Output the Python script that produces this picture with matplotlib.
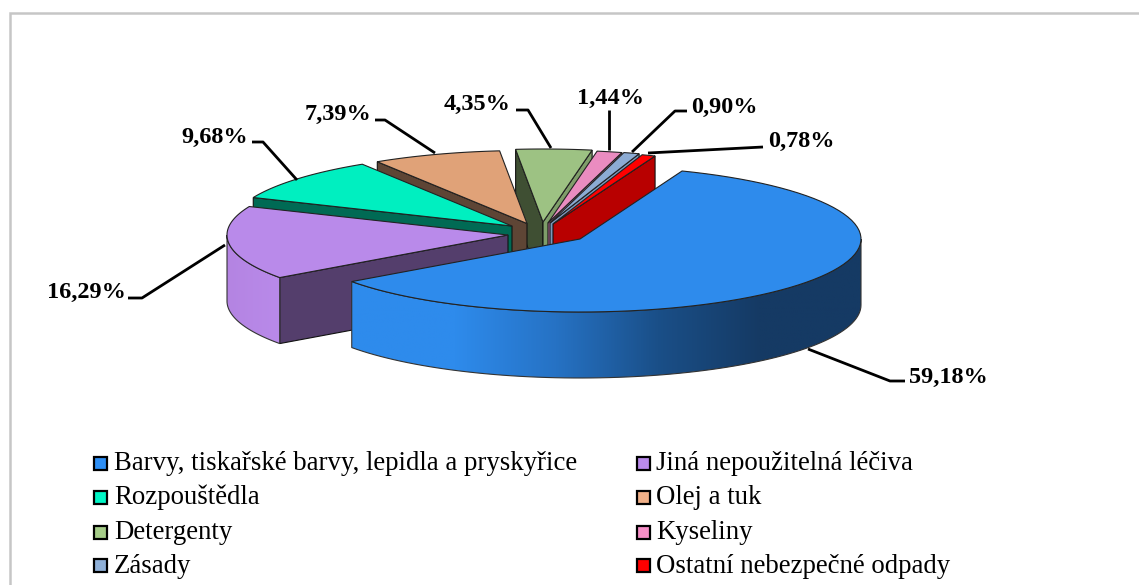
import numpy as np
import matplotlib
matplotlib.use('Agg')
import matplotlib.pyplot as plt
from matplotlib.colors import LinearSegmentedColormap
from matplotlib.patches import Polygon, Rectangle

plt.rcParams['font.family'] = ['Liberation Serif', 'DejaVu Serif']

# data
categories = ['Barvy, tiskařské barvy, lepidla a pryskyřice', 'Jiná nepoužitelná léčiva',
              'Rozpouštědla', 'Olej a tuk', 'Detergenty', 'Kyseliny', 'Zásady',
              'Ostatní nebezpečné odpady']
values = [59.18, 16.29, 9.68, 7.39, 4.35, 1.44, 0.90, 0.78]

# colours: top, radial face, outer wall
top_colors = ['#2e8bec', '#b98aea', '#00efc0', '#e0a278', '#9dc283', '#ea8cc0', '#8cabd3', '#ff0000']
face_colors = ['#1b4f88', '#543e6c', '#006a54', '#5e4535', '#3f4f33', '#b56f96', '#6d86a8', '#b80000']
right_face_colors = ['#1b4f88', '#543e6c', '#006a54', '#5e4535', '#7f9e6a', '#d07fad', '#7b97bb', '#b80000']
legend_colors = ['#2e8ff5', '#b98aea', '#00f5c5', '#f0b088', '#a5cc88', '#f78fc8', '#8fb0d8', '#ff0000']

# layout, in pixels of the 1139x585 picture
START = 21.3
RX, RY, DEPTH = 281, 73, 66
apex = [(580, 239), (508, 235), (512, 226), (527, 223.5), (543, 222), (548, 223), (550, 223), (553, 224)]
draw_order = [4, 5, 6, 7, 3, 2, 1, 0]
leader_elbow = [[(890, 381), (905, 381)], [(142, 298), (128, 298)], [(263, 142), (252, 142)],
                [(385, 120), (375, 120)], [(528, 110), (516, 110)], [(609, 110)],
                [(675, 111), (687, 111)], [(763, 147)]]
leader_start = [(808, 349), (225, 245), (297, 180), (435, 153), (551, 148), (609, 150), (632, 152), (648, 153)]
label_pos = [(909, 377), (47, 292), (181, 137), (305, 114), (444, 104), (577, 98), (691, 107), (768, 141)]
legend_rows = [463, 497, 532, 565]
legend_base = [470, 504, 539, 573]
legend_cols = [(94, 114), (637, 656)]

fig = plt.figure(figsize=(11.39, 5.85), dpi=100)
ax = fig.add_axes([0, 0, 1, 1])
ax.set_xlim(0, 1139)
ax.set_ylim(585, 0)
ax.axis('off')

# chart frame, the right side is cut off in the picture
ax.plot([10, 10, 1139], [590, 13, 13], color='#c6c6c6', lw=1.8, zorder=0, solid_joinstyle='miter')


def arc(c, a0, a1, n=80):
    t = np.radians(np.linspace(a0, a1, n))
    return c[0] + RX * np.sin(t), c[1] - RY * np.cos(t)


def radial_face(c, a, color, z):
    x, y = arc(c, a, a, 1)
    pts = [c, (x[0], y[0]), (x[0], y[0] + DEPTH), (c[0], c[1] + DEPTH)]
    ax.add_patch(Polygon(pts, closed=True, fc=color, ec='#111111', lw=0.8, zorder=z))


share = np.array(values) / sum(values) * 360
a_start = START + np.concatenate([[0], np.cumsum(share)[:-1]])
a_end = a_start + share

wall_blue = LinearSegmentedColormap.from_list('wall_blue', ['#2e8bec', '#2e8bec', '#2672c4', '#1a4f88', '#153a64', '#153a64'])
wall_purple = LinearSegmentedColormap.from_list('wall_purple', ['#b98aea', '#b484e2'])

z = 2
for i in draw_order:
    c = apex[i]
    a0, a1 = a_start[i], a_end[i]
    # radial faces that look towards the viewer
    if a0 % 360 > 180:
        radial_face(c, a0, face_colors[i], z)
    if a1 % 360 < 180:
        radial_face(c, a1, right_face_colors[i], z)
    # curved wall, only the front half of the rim
    w0, w1 = max(a0, 90), min(a1, 270)
    if w1 > w0:
        x, y = arc(c, w0, w1)
        pts = np.r_[np.c_[x, y], np.c_[x[::-1], y[::-1] + DEPTH]]
        wall = Polygon(pts, closed=True, fc='none', ec='#333333', lw=0.8, zorder=z + 0.2)
        ax.add_patch(wall)
        cmap = wall_blue if i == 0 else wall_purple
        im = ax.imshow(np.linspace(0, 1, 256)[None, :] if i == 0 else np.linspace(1, 0, 256)[None, :],
                       extent=[x.min(), x.max(), y.max() + DEPTH, y.min()],
                       cmap=cmap, aspect='auto', zorder=z + 0.1)
        im.set_clip_path(wall)
    # top surface
    x, y = arc(c, a0, a1)
    pts = np.r_[[c], np.c_[x, y]]
    ax.add_patch(Polygon(pts, closed=True, fc=top_colors[i], ec='#222222', lw=0.8, zorder=z + 0.3))
    z += 1
ax.set_xlim(0, 1139)
ax.set_ylim(585, 0)

# leader lines and value labels
for i, v in enumerate(values):
    pts = [leader_start[i]] + leader_elbow[i]
    ax.plot([p[0] for p in pts], [p[1] for p in pts], color='black', lw=2, zorder=20, solid_capstyle='butt')
    txt = f'{v:.2f}'.replace('.', ',') + '%'
    ax.text(label_pos[i][0], label_pos[i][1], txt, fontsize=17.5, fontweight='bold', ha='left', va='center', zorder=21)

# legend
for i, name in enumerate(categories):
    mx, tx = legend_cols[i % 2]
    ax.add_patch(Rectangle((mx, legend_rows[i // 2] - 6.5), 13, 13, fc=legend_colors[i], ec='black', lw=1.6, zorder=20))
    ax.text(tx, legend_base[i // 2], name, fontsize=19.25, ha='left', va='baseline', zorder=21)

fig.savefig('out.png', dpi=100)
